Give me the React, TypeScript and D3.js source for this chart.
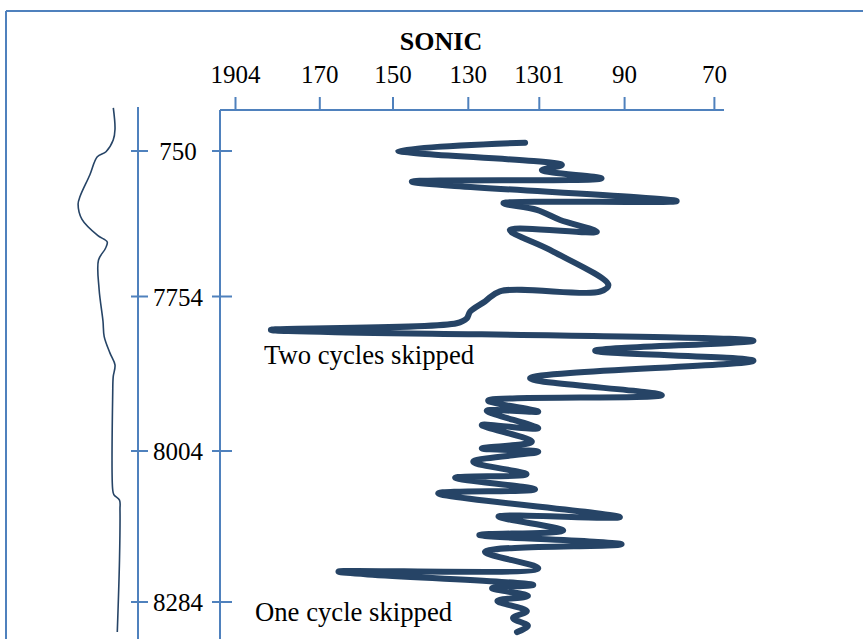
import React from "react";
import * as d3 from "d3";

// Sonic transit-time axis (top) and its printed tick labels
const sonicTicks = [190, 170, 150, 130, 110, 90, 70];
const sonicTickLabels = ["1904", "170", "150", "130", "1301", "90", "70"];

// Depth axis ticks and their printed labels
const depthTicks = [7750, 7850, 7950, 8050];
const depthTickLabels = ["750", "7754", "8004", "8284"];

// Sonic log: depth (ft) and transit time (µs/ft)
const sonicDepth = [
  7744.3, 7749.8, 7759.6, 7763.1, 7768.8, 7771.1, 7784.4, 7785.9, 7790.5, 7797.4,
  7805.5, 7804.3, 7818.0, 7842.1, 7846.7, 7846.4, 7853.2, 7859.8, 7864.1, 7867.3,
  7871.6, 7878.6, 7885.1, 7891.6, 7902.9, 7913.8, 7917.4, 7924.5, 7923.9, 7935.3,
  7933.2, 7944.0, 7948.3, 7950.5, 7957.1, 7965.4, 7967.7, 7975.4, 7978.0, 7993.8,
  7993.4, 8002.7, 8005.6, 8011.8, 8016.7, 8027.7, 8029.9, 8038.7, 8040.9, 8046.0,
  8049.3, 8056.0, 8060.6, 8065.9, 8069.9,
];
const sonicValue = [
  114.0, 148.6, 104.7, 109.4, 95.4, 145.0, 78.4, 120.1, 110.7, 105.1,
  96.5, 118.3, 107.5, 93.8, 95.8, 121.1, 125.3, 129.5, 130.4, 133.1,
  181.6, 61.3, 96.9, 61.3, 112.6, 81.7, 124.4, 110.3, 124.8, 110.3,
  126.2, 112.1, 126.2, 110.3, 128.6, 113.6, 133.5, 111.2, 138.0, 91.1,
  121.5, 104.4, 126.9, 90.7, 125.3, 110.3, 164.9, 111.7, 123.3, 113.2,
  121.8, 113.5, 117.4, 113.2, 116.3,
];

// Reference log drawn beside the depth track
const refDepth = [
  7720.4, 7735.0, 7742.5, 7750.5, 7754.0, 7766.5, 7781.0, 7786.5, 7797.0, 7808.0,
  7812.5, 7817.0, 7824.9, 7845.0, 7866.0, 7876.0, 7886.5, 7894.3, 7902.0, 7912.5,
  7975.8, 7979.1, 7982.5, 7989.0, 8022.2, 8069.9,
];
const refValue = [
  72.2, 75.0, 72.0, 60.0, 45.5, 33.0, 17.0, 13.5, 20.0, 46.0,
  62.0, 59.0, 47.5, 48.5, 55.0, 57.0, 66.5, 75.0, 72.0, 71.2,
  71.2, 73.3, 82.5, 83.3, 82.5, 78.8,
];

const W = 863;
const H = 639;
const axisBlue = "#4f81bd";
const logColor = "#264466";
const serif = "'Liberation Serif', 'Times New Roman', serif";

export default function App() {
  const x = d3
    .scaleLinear()
    .domain(sonicTicks)
    .range([235.5, 319.8, 393, 468.3, 539.3, 624.6, 714.4]);
  const y = d3.scaleLinear().domain(depthTicks).range([151, 296.5, 451, 602]);
  const gx = d3.scaleLinear().domain([0, 100]).range([70, 130]);

  const sonicPts = sonicDepth.map((d, i) => [x(sonicValue[i]), y(d)] as [number, number]);
  const refPts = refDepth.map((d, i) => [gx(refValue[i]), y(d)] as [number, number]);

  const sonicLine = d3.line().curve(d3.curveCatmullRom.alpha(0.5))(sonicPts) || "";
  const refLine = d3.line().curve(d3.curveCatmullRom.alpha(0.5))(refPts) || "";

  const axisTop = 110;
  const axisLeft = 220;
  const axisRight = 724;
  const trackX = 138;

  return (
    <svg
      width={W}
      height={H}
      style={{ position: "absolute", left: 0, top: 0, background: "#fff" }}
      fontFamily={serif}
    >
      {/* frame */}
      <line x1={6} y1={11} x2={W} y2={11} stroke={axisBlue} strokeWidth={2} />
      <line x1={6} y1={11} x2={6} y2={H} stroke={axisBlue} strokeWidth={2} />

      {/* title */}
      <text x={441} y={50} textAnchor="middle" fontSize={26} fontWeight="bold" fill="#000">
        SONIC
      </text>

      {/* top sonic axis */}
      <line x1={axisLeft} y1={axisTop} x2={axisRight} y2={axisTop} stroke={axisBlue} strokeWidth={2} />
      {sonicTicks.map((t, i) => (
        <g key={t}>
          <line x1={x(t)} y1={axisTop} x2={x(t)} y2={97} stroke={axisBlue} strokeWidth={2} />
          <text x={x(t)} y={83} textAnchor="middle" fontSize={25} fill="#000">
            {sonicTickLabels[i]}
          </text>
        </g>
      ))}

      {/* left vertical axis of the sonic track */}
      <line x1={axisLeft} y1={axisTop} x2={axisLeft} y2={H} stroke={axisBlue} strokeWidth={2} />
      {depthTicks.map((t) => (
        <line key={t} x1={212} y1={y(t)} x2={232} y2={y(t)} stroke={axisBlue} strokeWidth={2} />
      ))}

      {/* depth track */}
      <line x1={trackX} y1={107} x2={trackX} y2={H} stroke={axisBlue} strokeWidth={2} />
      {depthTicks.map((t, i) => (
        <g key={t}>
          <line x1={131} y1={y(t)} x2={148} y2={y(t)} stroke={axisBlue} strokeWidth={2} />
          <text x={178} y={y(t) + 9} textAnchor="middle" fontSize={25} fill="#000">
            {depthTickLabels[i]}
          </text>
        </g>
      ))}

      {/* reference log */}
      <path d={refLine} fill="none" stroke={logColor} strokeWidth={1.6} />

      {/* sonic log */}
      <path
        d={sonicLine}
        fill="none"
        stroke={logColor}
        strokeWidth={6}
        strokeLinecap="round"
        strokeLinejoin="round"
      />

      {/* annotations */}
      <text x={264} y={364} fontSize={26.7} fill="#000">
        Two cycles skipped
      </text>
      <text x={255} y={621} fontSize={26.7} fill="#000">
        One cycle skipped
      </text>
    </svg>
  );
}
